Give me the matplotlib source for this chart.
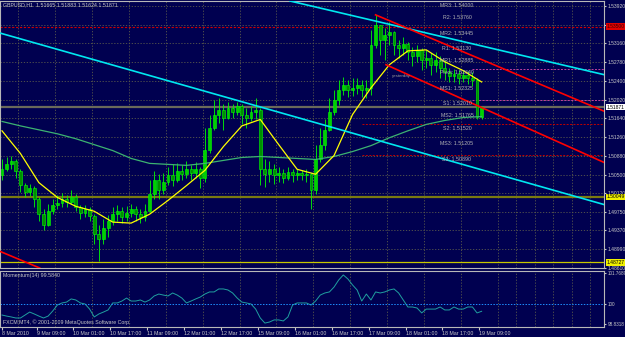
import matplotlib
matplotlib.use("Agg")
import matplotlib.pyplot as plt
from matplotlib.transforms import blended_transform_factory

plt.rcParams["font.family"] = ["Liberation Sans", "DejaVu Sans"]

BG = "#000050"
FG = "#c8c8c8"
GRID = "#5a5a4c"

# GBPUSD H1, every second bar, hours counted from 8 Mar 18:00
bar_hours = list(range(0, 209, 2))
first_open = 1.5050
bar_close = [1.5061, 1.5071, 1.5077, 1.5057, 1.5030, 1.5016, 1.5024, 1.5000, 1.4970, 1.4949,
             1.4976, 1.4988, 1.4992, 1.5000, 1.4994, 1.5004, 1.4984, 1.4972, 1.4980, 1.4966,
             1.4929, 1.4919, 1.4943, 1.4956, 1.4970, 1.4976, 1.4964, 1.4972, 1.4980, 1.4970,
             1.4964, 1.4976, 1.5010, 1.5040, 1.5020, 1.5036, 1.5049, 1.5040, 1.5057, 1.5051,
             1.5061, 1.5053, 1.5061, 1.5044, 1.5101, 1.5145, 1.5172, 1.5182, 1.5166, 1.5186,
             1.5178, 1.5190, 1.5172, 1.5166, 1.5178, 1.5182, 1.5061, 1.5051, 1.5061, 1.5049,
             1.5053, 1.5044, 1.5055, 1.5049, 1.5053, 1.5049, 1.5051, 1.5020, 1.5081, 1.5111,
             1.5141, 1.5178, 1.5202, 1.5222, 1.5232, 1.5222, 1.5226, 1.5232, 1.5222, 1.5226,
             1.5313, 1.5353, 1.5323, 1.5333, 1.5339, 1.5313, 1.5307, 1.5315, 1.5299, 1.5291,
             1.5303, 1.5283, 1.5287, 1.5273, 1.5283, 1.5267, 1.5259, 1.5251, 1.5255, 1.5246,
             1.5253, 1.5246, 1.5242, 1.51665, 1.51871]
bar_high = [1.5081, 1.5085, 1.5087, 1.5081, 1.5061, 1.5034, 1.5032, 1.5028, 1.5004, 1.4980,
            1.4990, 1.5000, 1.5008, 1.5012, 1.5008, 1.5020, 1.5010, 1.4988, 1.4988, 1.4984,
            1.4970, 1.4949, 1.4960, 1.4968, 1.4984, 1.4988, 1.4984, 1.4986, 1.4990, 1.4986,
            1.4980, 1.4990, 1.5040, 1.5057, 1.5051, 1.5053, 1.5065, 1.5071, 1.5073, 1.5069,
            1.5077, 1.5069, 1.5075, 1.5065, 1.5145, 1.5172, 1.5202, 1.5206, 1.5194, 1.5198,
            1.5194, 1.5198, 1.5194, 1.5186, 1.5190, 1.5206, 1.5186, 1.5081, 1.5077, 1.5071,
            1.5065, 1.5061, 1.5065, 1.5061, 1.5061, 1.5059, 1.5061, 1.5053, 1.5111, 1.5145,
            1.5162, 1.5206, 1.5222, 1.5242, 1.5248, 1.5242, 1.5246, 1.5246, 1.5242, 1.5242,
            1.5343, 1.5374, 1.5353, 1.5347, 1.5360, 1.5341, 1.5323, 1.5329, 1.5319, 1.5309,
            1.5313, 1.5307, 1.5303, 1.5297, 1.5299, 1.5291, 1.5283, 1.5267, 1.5265, 1.5263,
            1.5263, 1.5261, 1.5259, 1.5246, 1.51883]
bar_low = [1.5040, 1.5057, 1.5061, 1.5044, 1.5016, 1.5004, 1.5006, 1.4984, 1.4956, 1.4937,
           1.4947, 1.4970, 1.4980, 1.4984, 1.4984, 1.4990, 1.4976, 1.4960, 1.4964, 1.4956,
           1.4909, 1.4875, 1.4909, 1.4923, 1.4949, 1.4956, 1.4952, 1.4956, 1.4964, 1.4956,
           1.4952, 1.4956, 1.4974, 1.5000, 1.5000, 1.5010, 1.5030, 1.5028, 1.5036, 1.5040,
           1.5044, 1.5040, 1.5044, 1.5024, 1.5036, 1.5095, 1.5141, 1.5154, 1.5141, 1.5162,
           1.5166, 1.5172, 1.5152, 1.5145, 1.5158, 1.5162, 1.5030, 1.5026, 1.5036, 1.5032,
           1.5036, 1.5034, 1.5040, 1.5036, 1.5040, 1.5040, 1.5036, 1.4980, 1.5010, 1.5075,
           1.5101, 1.5138, 1.5172, 1.5192, 1.5212, 1.5208, 1.5210, 1.5214, 1.5208, 1.5206,
           1.5212, 1.5307, 1.5293, 1.5283, 1.5313, 1.5293, 1.5287, 1.5293, 1.5283, 1.5271,
           1.5279, 1.5263, 1.5267, 1.5253, 1.5259, 1.5246, 1.5242, 1.5238, 1.5238, 1.5234,
           1.5238, 1.5234, 1.5230, 1.5162, 1.51624]

momentum = [99.37, 99.31, 99.26, 99.20, 99.20, 99.37, 99.54, 99.43, 99.31, 99.20,
            99.31, 99.60, 99.94, 100.06, 100.11, 100.29, 100.23, 100.06, 100.00, 99.71,
            99.26, 99.43, 99.54, 99.66, 100.06, 100.06, 100.17, 100.34, 100.17, 100.17,
            100.23, 100.11, 100.23, 100.46, 100.57, 100.51, 100.46, 100.63, 100.51, 100.34,
            100.06, 100.17, 100.29, 100.40, 100.57, 100.69, 100.69, 100.86, 100.86, 100.80,
            100.63, 100.34, 100.11, 100.06, 100.00, 99.71, 99.20, 98.91, 98.97, 99.09,
            99.09, 99.03, 99.26, 99.94, 100.06, 100.06, 100.06, 99.94, 100.17, 100.51,
            100.63, 100.69, 100.97, 101.37, 101.66, 101.43, 101.09, 100.80, 100.17, 100.57,
            100.23, 100.69, 100.63, 100.69, 100.80, 100.86, 100.63, 100.23, 99.83, 99.83,
            99.77, 99.49, 99.71, 99.71, 99.71, 99.83, 99.66, 99.66, 99.83, 99.71,
            99.71, 99.83, 99.83, 99.49, 99.584]

# moving averages, read every 8 hours
ma_hours = list(range(0, 209, 8))
ma_fast = [1.5139, 1.5093, 1.5034, 1.5004, 1.4986, 1.4976, 1.4954, 1.4952, 1.4970, 1.4998,
           1.5028, 1.5059, 1.5107, 1.5149, 1.5162, 1.5111, 1.5061, 1.5051, 1.5089, 1.5172,
           1.5226, 1.5273, 1.5301, 1.5303, 1.5279, 1.5261, 1.5238]
ma_slow = [1.5158, 1.5149, 1.5141, 1.5133, 1.5123, 1.5111, 1.5099, 1.5083, 1.5073, 1.5071,
           1.5069, 1.5073, 1.5079, 1.5085, 1.5087, 1.5085, 1.5083, 1.5081, 1.5087, 1.5097,
           1.5109, 1.5125, 1.5139, 1.5152, 1.5160, 1.5166, 1.5168]

# trend lines as (hour, price) anchor pairs
cyan_lines = [((0, 1.5336), (260, 1.4991)), ((125, 1.5402), (260, 1.5254))]
red_old_line = ((0, 1.4893), (14.3, 1.4865))
red_channel = [((162, 1.5374), (262, 1.5177)), ((166.5, 1.5273), (262, 1.5073))]

pivot_names = ["MR3", "R2", "MR2", "R1", "MR1", "Pivot", "MS1", "S1", "MS2", "S2", "MS3", "S3"]
pivot_values = [1.54000, 1.53760, 1.53445, 1.53130, 1.52885, 1.52640, 1.52325, 1.52010,
                1.51765, 1.51520, 1.51205, 1.50890]

price_ticks = [1.53920, 1.53540, 1.53160, 1.52780, 1.52400, 1.52020, 1.51640, 1.51260,
               1.50880, 1.50500, 1.50120, 1.49750, 1.49370, 1.48990, 1.48610]
date_ticks = [0, 15, 31, 47, 63, 79, 95, 111, 127, 143, 159, 175, 191, 207]
date_labels = ["8 Mar 2010", "9 Mar 09:00", "10 Mar 01:00", "10 Mar 17:00", "11 Mar 09:00",
               "12 Mar 01:00", "12 Mar 17:00", "15 Mar 09:00", "16 Mar 01:00", "16 Mar 17:00",
               "17 Mar 09:00", "18 Mar 01:00", "18 Mar 17:00", "19 Mar 09:00"]

W, H = 625, 337
fig = plt.figure(figsize=(W / 100, H / 100), dpi=100, facecolor=BG)


def px_axes(x0, y0, x1, y1, **kw):
    return fig.add_axes([x0 / W, 1 - y1 / H, (x1 - x0) / W, (y1 - y0) / H], **kw)


ax = px_axes(0, 1, 604, 268)
axm = px_axes(0, 271, 604, 327, sharex=ax)

for a in (ax, axm):
    a.set_facecolor(BG)
    for s in a.spines.values():
        s.set_color("#b8b8b8")
        s.set_linewidth(0.8)
    a.set_xticks(range(-1, 262, 8), minor=True)
    a.grid(which="minor", axis="x", color=GRID, linestyle=(0, (1.5, 2)), linewidth=0.6)
    a.yaxis.tick_right()
    a.tick_params(axis="y", length=1.5, pad=1, labelsize=3.6, colors=FG)
    a.tick_params(axis="x", which="minor", length=0)

ax.set_xlim(-2 / 2.306, 602 / 2.306)
ax.set_ylim(1.48624, 1.54021)
ax.set_yticks(price_ticks)
ax.set_yticklabels([f"{v:.5f}" for v in price_ticks])
ax.grid(which="major", axis="y", color=GRID, linestyle=(0, (1.5, 2)), linewidth=0.6)
ax.tick_params(axis="x", which="major", length=0, labelbottom=False)

# horizontal levels
ax.axhline(1.53500, color="#d00000", lw=0.8, ls=(0, (2, 1.5)))
ax.axhline(1.51871, color="#6a6a5a", lw=1.6)
ax.axhline(1.50049, color="#7a7a10", lw=1.6)
ax.axhline(1.48727, color="#c8c800", lw=0.9)
for name, val in zip(pivot_names, pivot_values):
    if name in ("Pivot", "S1"):
        ax.plot([204, 262], [val, val], color="#c040a0", lw=0.7, ls=(0, (2, 1.5)))
    if name in ("S2", "S3"):
        ax.plot([156, 262], [val, val], color="#c00000", lw=0.7, ls=(0, (2, 1.5)))

# candles
opens = [first_open] + bar_close[:-1]
for h, o, hi, lo, c in zip(bar_hours, opens, bar_high, bar_low, bar_close):
    ax.vlines(h, min(lo, o, c), max(hi, o, c), color="#00ff00", lw=0.6, zorder=3)
    body = max(abs(c - o), 0.00006)
    fill = "#00d000" if c >= o else "#009000"
    ax.bar(h, body, bottom=min(o, c), width=1.25, color=fill, edgecolor="#00ff00",
           linewidth=0.4, zorder=3)

ax.plot(ma_hours, ma_slow, color="#3cb371", lw=0.9, zorder=4)
ax.plot(ma_hours, ma_fast, color="#ffff00", lw=0.9, zorder=4)

for p0, p1 in cyan_lines:
    ax.axline(p0, p1, color="#00e8f0", lw=1.2, zorder=5)
ax.axline(red_old_line[0], red_old_line[1], color="#ff0000", lw=1.2, zorder=5)
for (h0, v0), (h1, v1) in red_channel:
    h_end = 300
    ax.plot([h0, h_end], [v0, v0 + (v1 - v0) * (h_end - h0) / (h1 - h0)],
            color="#ff0000", lw=1.2, zorder=5)

for name, val in zip(pivot_names, pivot_values):
    ax.annotate(f"{name}: {val:.5f}", (197.3, val), xytext=(0, -0.8),
                textcoords="offset points", ha="center", va="top",
                fontsize=3.8, color="#b4b4b4", zorder=6)
ax.text(169, 1.5251, "yesterday", fontsize=3.2, color="#9a9a9a", va="center", zorder=6)

# price boxes on the right scale
tr = blended_transform_factory(ax.transAxes, ax.transData)
for val, face, txt in [(1.53500, "#e00000", "#400000"), (1.51871, "#ffffff", "#000000"),
                       (1.50049, "#f0f000", "#000000"), (1.48727, "#f0f000", "#000000")]:
    ax.text(1.004, val, f"{val:.5f}", transform=tr, fontsize=3.6, color=txt, va="center",
            ha="left", clip_on=False, zorder=10,
            bbox=dict(facecolor=face, edgecolor="none", pad=0.6))

# momentum panel
axm.plot(bar_hours, momentum, color="#20a0a0", lw=0.7)
axm.axhline(100, color="#1e90ff", lw=0.7, ls=(0, (1.5, 1.5)))
axm.set_ylim(98.686, 101.886)
axm.set_yticks([98.8318, 100, 101.7689])
axm.set_yticklabels(["98.8318", "100", "101.7689"])
axm.tick_params(axis="y", labelsize=3.3)
axm.set_xticks(date_ticks)
axm.set_xticklabels(date_labels, ha="left")
axm.tick_params(axis="x", which="major", length=2, pad=1, labelsize=3.8, colors=FG)

fig.text(3 / W, 1 - 5 / H, "GBPUSD,H1  1.51665 1.51883 1.51624 1.51871", fontsize=3.8,
         color=FG, va="center")
fig.text(3 / W, 1 - 275 / H, "Momentum(14) 99.5840", fontsize=3.8, color=FG, va="center")
fig.text(3 / W, 1 - 322 / H, "FXCM MT4, \u00a9 2001-2009 MetaQuotes Software Corp.",
         fontsize=3.8, color=FG, va="center")

fig.savefig("out.png", dpi=100, facecolor=BG)
